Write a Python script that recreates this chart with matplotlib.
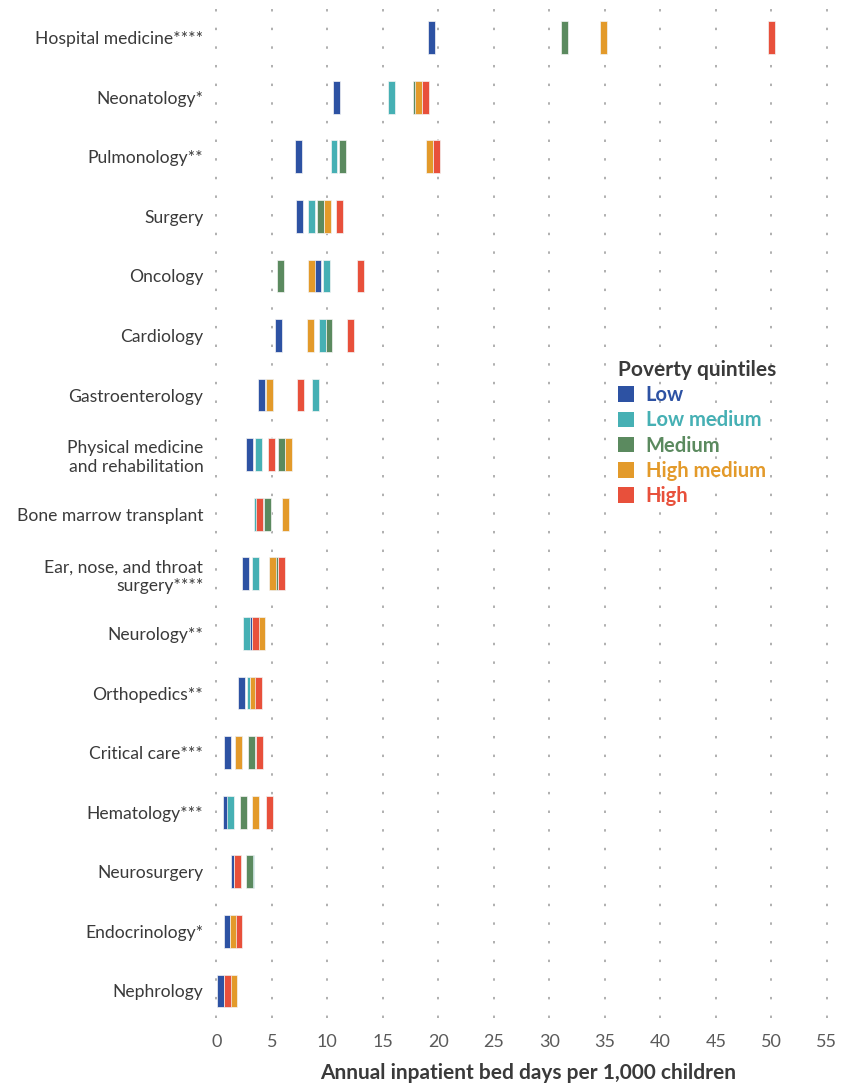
import numpy as np
import matplotlib.pyplot as plt
from matplotlib.patches import Patch

plt.rcParams['font.family'] = ['Lato', 'DejaVu Sans']

categories = ["Hospital medicine****", "Neonatology*", "Pulmonology**", "Surgery",
              "Oncology", "Cardiology", "Gastroenterology",
              "Physical medicine\nand rehabilitation", "Bone marrow transplant",
              "Ear, nose, and throat\nsurgery****", "Neurology**", "Orthopedics**",
              "Critical care***", "Hematology***", "Neurosurgery", "Endocrinology*",
              "Nephrology"]

# annual inpatient bed days per 1,000 children, by poverty quintile
low = [19.4, 10.85, 7.4, 7.5, 9.1, 5.6, 4.05, 3.0, 3.87, 2.6, 3.05, 2.25,
       1.0, 0.9, 1.65, 1.0, 0.4]
low_medium = [np.nan, 15.75, 10.6, 8.55, 9.95, 9.6, 8.95, 3.8, 3.7, 3.55, 2.7, 3.05,
              1.97, 1.3, 3.1, 1.56, 1.0]
medium = [31.4, 18.0, 11.35, 9.4, 5.75, 10.15, 4.8, 5.85, 4.6, 5.2, 3.55, 3.3,
          3.15, 2.45, 3.0, 1.56, 1.0]
high_medium = [34.9, 18.25, 19.2, 10.0, 8.6, 8.45, 4.8, 6.5, 6.2, 5.05, 4.1, 3.3,
               1.97, 3.5, 1.87, 1.56, 1.55]
high = [50.0, 18.85, 19.85, 11.1, 12.95, 12.05, 7.6, 4.95, 3.87, 5.9, 3.55, 3.82,
        3.85, 4.75, 1.87, 2.04, 0.99]

series = [low, low_medium, medium, high_medium, high]
names = ["Low", "Low medium", "Medium", "High medium", "High"]
colors = ["#2d52a3", "#46b0b4", "#5b8a5f", "#e39a2a", "#e8503b"]

fig = plt.figure(figsize=(8.42, 10.85), dpi=100)
ax = fig.add_axes([0.253, 0.062, 0.733, 0.933])

y = np.arange(len(categories))
w = 0.62
for i, (vals, c) in enumerate(zip(series, colors)):
    vals = np.array(vals)
    ax.barh(y, w, left=vals - w / 2, height=0.55, color=c,
            edgecolor='#f4f4f4', linewidth=0.5, zorder=3 + i)

ax.set_xlim(-0.3, 55.3)
ax.set_ylim(16.45, -0.54)
ax.set_xticks(range(0, 56, 5))
ax.set_yticks(y)
ax.set_yticklabels(categories, fontsize=12.6, color='#3a3a3a', linespacing=1.2)
ax.tick_params(axis='x', length=0, labelsize=13, labelcolor='#5a5a5a', pad=12)
ax.tick_params(axis='y', length=0, pad=7)
ax.xaxis.grid(True, color='#9a9a9a', linewidth=1.1, linestyle=(0, (1.6, 10.6)))
ax.set_axisbelow(True)
for s in ax.spines.values():
    s.set_visible(False)

ax.set_xlabel("Annual inpatient bed days per 1,000 children", fontsize=15,
              fontweight='bold', color='#3a3a3a', labelpad=9)
ax.xaxis.label.set_x(0.51)

handles = [Patch(facecolor=c, edgecolor='none') for c in colors]
leg = fig.legend(handles, names, loc='upper left', bbox_to_anchor=(0.712, 0.685),
                 frameon=False, title="Poverty quintiles", alignment='left',
                 title_fontproperties={'weight': 'bold', 'size': 15},
                 prop={'weight': 'bold', 'size': 14.5}, labelcolor=colors,
                 handlelength=0.8, handleheight=0.8, handletextpad=0.6,
                 labelspacing=0.26)
leg.get_title().set_color('#3a3a3a')

fig.savefig("out.png", dpi=100)
